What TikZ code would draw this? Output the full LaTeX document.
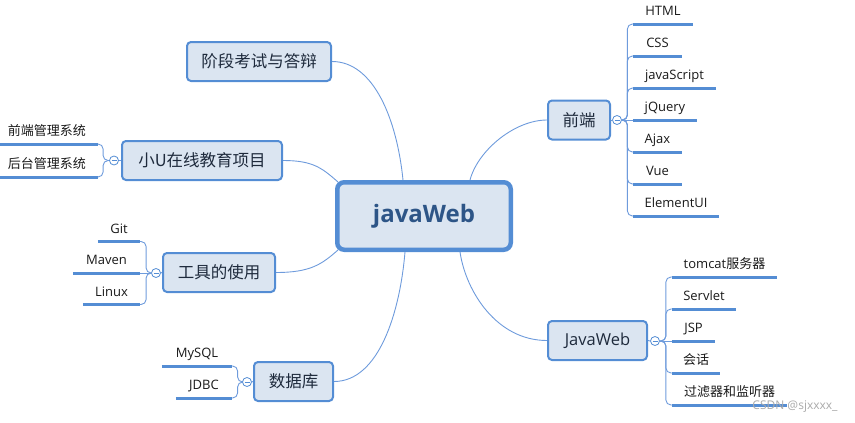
\documentclass[tikz,border=0pt]{standalone}
\usepackage{fontspec}
\setmainfont{Open Sans}
\newfontfamily\cjk{Noto Sans CJK SC}
\usetikzlibrary{backgrounds,calc}
\definecolor{mblue}{RGB}{84,141,212}
\definecolor{mfill}{RGB}{219,229,241}
\definecolor{lnk}{RGB}{110,155,220}
\definecolor{ctext}{RGB}{45,85,135}
\definecolor{ttext}{RGB}{30,42,60}
\definecolor{wm}{RGB}{170,170,170}
\begin{document}
\begin{tikzpicture}[x=1pt,y=-1pt,
  central/.style={draw=mblue, fill=mfill, line width=4.5pt, rounded corners=7pt,
    minimum width=173.5pt, minimum height=67.5pt, inner sep=0pt,
    font=\bfseries\fontsize{24}{28}\selectfont, text=ctext},
  topic/.style={draw=mblue, fill=mfill, line width=2pt, rounded corners=4pt,
    minimum height=39pt, inner sep=0pt, font=\fontsize{16.5}{20}\selectfont, text=ttext},
  subt/.style={inner sep=0pt, text height=10pt, text depth=8pt, anchor=south,
    font=\fontsize{13}{15}\selectfont, text=black!90},
  uline/.style={draw=mblue, line width=3pt},
  bracket/.style={draw=lnk, line width=0.9pt, rounded corners=5pt},
  link/.style={draw=lnk, line width=0.9pt},
  fold/.style={circle, draw=mblue, fill=white, line width=0.8pt, minimum size=9pt, inner sep=0pt,
    path picture={\draw[mblue, line width=0.7pt]
      ([xshift=-2.5pt]path picture bounding box.center) -- ([xshift=2.5pt]path picture bounding box.center);}}
]
\useasboundingbox (0,0) rectangle (855,423);

% central and main topics
\node[central] (c) at (424,216) {javaWeb};
\node[topic, minimum width=144pt] (t1) at (259,61.5) {\cjk 阶段考试与答辩};
\node[topic, minimum width=160pt] (t2) at (202,160.5) {\cjk 小U在线教育项目};
\node[topic, minimum width=112pt] (t3) at (219,272.5) {\cjk 工具的使用};
\node[topic, minimum width=79pt] (t4) at (293.5,381.5) {\cjk 数据库};
\node[topic, minimum width=62pt] (t5) at (579,120) {\cjk 前端};
\node[topic, minimum width=99pt] (t6) at (597.5,340.5) {JavaWeb};

% fold markers
\node[fold] (f2) at (114,160.5) {};
\node[fold] (f3) at (156,273) {};
\node[fold] (f4) at (247,382) {};
\node[fold] (f5) at (617,120) {};
\node[fold] (f6) at (655,341) {};

% 前端 children
\node[subt, minimum width=60pt] (a1) at (663,24) {HTML};
\node[subt, minimum width=49pt] (a2) at (657.5,56) {CSS};
\node[subt, minimum width=83pt] (a3) at (674.5,88) {javaScript};
\node[subt, minimum width=64pt] (a4) at (665,120) {jQuery};
\node[subt, minimum width=49pt] (a5) at (657.5,152) {Ajax};
\node[subt, minimum width=49pt] (a6) at (657.5,184) {Vue};
\node[subt, minimum width=86pt] (a7) at (676,216) {ElementUI};

% JavaWeb children
\node[subt, minimum width=105pt] (b1) at (724.5,277) {tomcat{\cjk 服务器}};
\node[subt, minimum width=64pt] (b2) at (704,309) {Servlet};
\node[subt, minimum width=43pt] (b3) at (693.5,341) {JSP};
\node[subt, minimum width=48pt] (b4) at (696,373) {\cjk 会话};
\node[subt, minimum width=115pt] (b5) at (729.5,405) {\cjk 过滤器和监听器};

% 小U children
\node[subt, minimum width=102pt] (u1) at (47,144) {\cjk 前端管理系统};
\node[subt, minimum width=102pt] (u2) at (47,177) {\cjk 后台管理系统};

% 工具 children
\node[subt, minimum width=42pt] (g1) at (119,241.5) {Git};
\node[subt, minimum width=67pt] (g2) at (106.5,273) {Maven};
\node[subt, minimum width=57pt] (g3) at (111.5,304.5) {Linux};

% 数据库 children
\node[subt, minimum width=70pt] (d1) at (197,366) {MySQL};
\node[subt, minimum width=56pt] (d2) at (204,398) {JDBC};

\foreach \n in {a1,a2,a3,a4,a5,a6,a7,b1,b2,b3,b4,b5,u1,u2,g1,g2,g3,d1,d2}
  \draw[uline] (\n.south west) -- (\n.south east);

\begin{scope}[on background layer]
  % main connectors
  \draw[link] (t1.east) .. controls +(42,0) and +(-6,-60) .. ([xshift=-21pt]c.north);
  \draw[link] (t2.east) .. controls +(30,0) and +(-16,-14) .. ([xshift=3pt,yshift=-2pt]c.north west);
  \draw[link] (t3.east) .. controls +(35,0) and +(-16,14) .. ([xshift=3pt,yshift=2pt]c.south west);
  \draw[link] (t4.east) .. controls +(45,0) and +(-5,60) .. ([xshift=-19pt]c.south);
  \draw[link] (t5.west) .. controls +(-32,0) and +(8,-30) .. ([xshift=46pt]c.north);
  \draw[link] (t6.west) .. controls +(-50,0) and +(6,40) .. ([xshift=36pt]c.south);
  % topic to fold
  \draw[bracket] (t2.west) -- (f2.east);
  \draw[bracket] (t3.west) -- (f3.east);
  \draw[bracket] (t4.west) -- (f4.east);
  \draw[bracket] (t5.east) -- (f5.west);
  \draw[bracket] (t6.east) -- (f6.west);
  % brackets right
  \foreach \n in {a1,a2,a3,a5,a6,a7}
    \draw[bracket] (f5.east) -- ++(5.5,0) |- (\n.south west);
  \draw[bracket] (f5.east) -- (a4.south west);
  \foreach \n in {b1,b2,b4,b5}
    \draw[bracket] (f6.east) -- ++(6,0) |- (\n.south west);
  \draw[bracket] (f6.east) -- (b3.south west);
  % brackets left
  \foreach \n in {u1,u2}
    \draw[bracket] (f2.west) -- ++(-6,0) |- (\n.south east);
  \foreach \n in {g1,g3}
    \draw[bracket] (f3.west) -- ++(-5,0) |- (\n.south east);
  \draw[bracket] (f3.west) -- (g2.south east);
  \foreach \n in {d1,d2}
    \draw[bracket] (f4.west) -- ++(-4.5,0) |- (\n.south east);
\end{scope}

% watermark
\node[text=wm, font=\fontsize{12}{14}\selectfont, inner sep=0pt] (wmk) at (795,407) {CSDN @sjxxxx\_};
\end{tikzpicture}
\end{document}
